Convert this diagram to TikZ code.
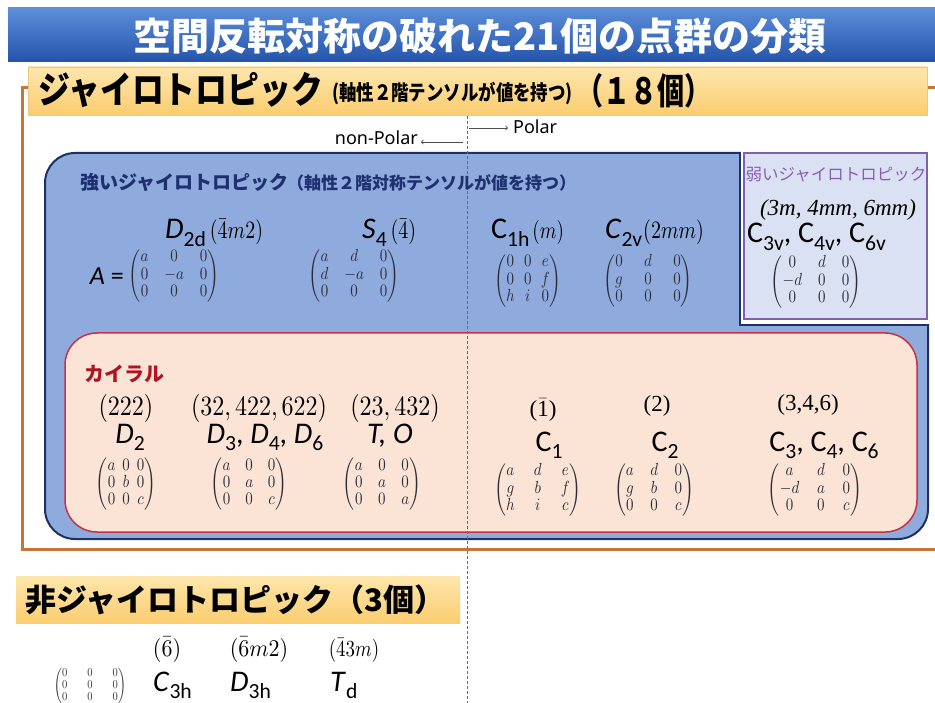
\RequirePackage{fix-cm}
\documentclass[tikz,border=0pt]{standalone}
\usepackage{amsmath}
\usepackage{graphicx}
\usepackage[no-math]{fontspec}
\setmainfont{Carlito}
\newfontfamily\jp{Noto Sans CJK JP}
\newfontfamily\jpc[FakeStretch=0.86]{Noto Sans CJK JP}
\newfontfamily\jpm[FakeStretch=0.83]{Noto Sans CJK JP}
\newfontfamily\jpn[FakeStretch=0.75]{Noto Sans CJK JP}
\newfontfamily\tms{Liberation Serif}
\newfontfamily\nsans{Noto Sans}
\newcommand\fs[1]{\fontsize{#1}{#1}\selectfont}
\newcommand\Gi[2]{\textit{#1}\raisebox{-0.26em}{\scalebox{0.72}{#2}}}
\newcommand\Gu[2]{#1\raisebox{-0.26em}{\scalebox{0.72}{#2}}}
\newcommand\mth[3]{\scalebox{#1}[#2]{\fontsize{10}{10}\selectfont$#3$}}
\newcommand\mtx[2]{\scalebox{1.5}[1.75]{\fontsize{10}{10}\selectfont\setlength\arraycolsep{#1}$\begin{pmatrix}#2\end{pmatrix}$}}
\definecolor{tb1}{RGB}{92,142,218}
\definecolor{tb2}{RGB}{36,84,170}
\definecolor{ban1}{RGB}{254,230,172}
\definecolor{ban2}{RGB}{250,205,112}
\definecolor{banl}{RGB}{235,200,130}
\definecolor{framec}{RGB}{196,118,56}
\definecolor{bfill}{RGB}{143,170,220}
\definecolor{bline}{RGB}{28,50,100}
\definecolor{wfill}{RGB}{218,225,243}
\definecolor{wline}{RGB}{128,96,168}
\definecolor{wtext}{RGB}{140,92,180}
\definecolor{cfill}{RGB}{251,228,214}
\definecolor{cline}{RGB}{196,50,70}
\definecolor{ctext}{RGB}{175,20,35}
\definecolor{navy}{RGB}{30,48,112}
\definecolor{dashc}{RGB}{95,105,140}
\definecolor{mtxc}{RGB}{45,45,55}
\tikzset{
  lab/.style={font=\fs{30}, inner sep=0pt},
  pg/.style={inner sep=0pt},
  tpg/.style={font=\tms\fs{23}, inner sep=0pt},
  mat/.style={inner sep=0pt, text=mtxc},
  dline/.style={draw=dashc, line width=0.8pt, dash pattern=on 3pt off 2pt},
  polarr/.style={draw=black!70, line width=0.8pt, ->},
}
\begin{document}
\begin{tikzpicture}[x=1pt,y=-1pt]
\useasboundingbox (0,0) rectangle (935,703);
\fill[white] (0,0) rectangle (935,703);

% title bar
\path[top color=tb1, bottom color=tb2] (8,8) rectangle (935,62);
\node[font=\jp\bfseries\fs{38}, text=white, inner sep=0pt] (title) at (480,36) {空間反転対称の破れた21個の点群の分類};

% frame
\draw[framec, line width=3pt] (22,88) rectangle (945,549);

% banner
\path[top color=ban1, bottom color=ban2, draw=banl] (28,67) rectangle (927,115);
\node[anchor=base west, font=\jpc\bfseries\fs{37}, inner sep=0pt] (gy) at (38,104) {ジャイロトロピック};
\node[anchor=base west, font=\jpm\bfseries\fs{21}, inner sep=0pt] (gyn) at (332,101) {(軸性２階テンソルが値を持つ)};
\node[anchor=base west, font=\jpn\bfseries\fs{36}, inner sep=0pt] (gy18) at (576,105) {（１８個）};

% polar arrows
\coordinate (npA) at (463,142);
\coordinate (npB) at (421,142);
\coordinate (pA) at (469,128);
\coordinate (pB) at (508,128);
\draw[polarr] (npA) -- (npB);
\draw[polarr] (pA) -- (pB);
\node[anchor=base east, font=\nsans\fs{18}, inner sep=0pt] (nonpolar) at (418,145) {non-Polar};
\node[anchor=base west, font=\nsans\fs{18}, inner sep=0pt] (polar) at (513,134) {Polar};

% blue box
\draw[bline, fill=bfill, line width=2pt, rounded corners=30pt] (45,153) rectangle (928,539);
\fill[white] (741,140) rectangle (940,324);
\draw[bline, line width=2pt] (740,152) -- (740,325) -- (929,325);

% weak box
\draw[wline, fill=wfill, line width=1.8pt] (744,153) rectangle (927,319);

% chiral box
\draw[cline, fill=cfill, line width=1.5pt, rounded corners=32pt] (65,333) rectangle (917,532);

% dashed line
\coordinate (dtop) at (467,116);
\coordinate (dbot) at (467,703);
\draw[dline] (dtop) -- (dbot);

% strong gyrotropic
\node[anchor=base west, font=\jp\bfseries\fs{19}, text=navy, inner sep=0pt] (strong) at (80,190) {強いジャイロトロピック};
\node[anchor=base west, font=\jp\bfseries\fs{17}, text=navy, inner sep=0pt] (strongn) at (287,190) {（軸性２階対称テンソルが値を持つ）};

\node[lab, anchor=base west] (d2d) at (165,239) {\Gi{D}{2d}\kern4pt\mth{2.0}{2.5}{(\bar{4}m2)}};
\node[lab, anchor=base west] (s4) at (362,239) {\Gi{S}{4}\kern4pt\mth{2.0}{2.5}{(\bar{4})}};
\node[lab, anchor=base west] (c1h) at (491,239) {\Gu{C}{1h}\kern3pt\mth{1.9}{2.4}{(m)}};
\node[lab, anchor=base west] (c2v) at (605,239) {\Gi{C}{2v}\kern1pt\mth{2.0}{2.5}{(2mm)}};

\node[anchor=east, font=\fs{26}, inner sep=0pt] (aeq) at (124,276) {\textit{A} =};
\node[mat] (md2d) at (174,276) {\mtx{5.3pt}{a&0&0\\0&-a&0\\0&0&0}};
\node[mat] (ms4) at (354,276) {\mtx{5.3pt}{a&d&0\\d&-a&0\\0&0&0}};
\node[mat] (mc1h) at (528,281) {\mtx{3.1pt}{0&0&e\\0&0&f\\h&i&0}};
\node[mat] (mc2v) at (648,281) {\mtx{7.1pt}{0&d&0\\g&0&0\\0&0&0}};

% weak gyrotropic
\node[anchor=base, font=\jp\fs{16.5}, text=wtext, inner sep=0pt] (weak) at (836,181) {弱いジャイロトロピック};
\node[anchor=base, font=\tms\itshape\fs{23}, inner sep=0pt] (weakpg) at (838,216) {(3m, 4mm, 6mm)};
\node[lab, anchor=base west] (c3v) at (747,243) {\Gu{C}{3v}, \Gu{C}{4v}, \Gu{C}{6v}};
\node[mat] (mweak) at (816,282) {\mtx{5.3pt}{0&d&0\\-d&0&0\\0&0&0}};

% chiral
\node[anchor=base west, font=\jp\bfseries\fs{20}, text=ctext, inner sep=0pt] (chir) at (84,382) {カイラル};

\node[pg, anchor=base] (p222) at (126,416) {\mth{2.4}{2.8}{(222)}};
\node[lab, anchor=base] (d2) at (130,443) {\Gi{D}{2}};
\node[pg, anchor=base] (p32) at (259,416) {\mth{2.4}{2.8}{(32,422,622)}};
\node[lab, anchor=base] (d346) at (265,443) {\Gi{D}{3}, \Gi{D}{4}, \Gi{D}{6}};
\node[pg, anchor=base] (p23) at (395,416) {\mth{2.4}{2.8}{(23,432)}};
\node[lab, anchor=base] (to) at (390,443) {\textit{T, O}};

\node[tpg, anchor=base] (p1) at (543,417) {($\bar{\text{1}}$)};
\node[lab, anchor=base] (c1) at (549,451) {\Gu{C}{1}};
\node[tpg, anchor=base] (p2) at (657,412) {(2)};
\node[lab, anchor=base] (c2) at (665,451) {\Gu{C}{2}};
\node[tpg, anchor=base] (p346) at (808,410) {(3,4,6)};
\node[lab, anchor=base] (c346) at (824,451) {\Gu{C}{3}, \Gu{C}{4}, \Gu{C}{6}};

\node[mat] (md2) at (126,484) {\mtx{2.3pt}{a&0&0\\0&b&0\\0&0&c}};
\node[mat] (md3) at (249,484) {\mtx{4.9pt}{a&0&0\\0&a&0\\0&0&c}};
\node[mat] (mto) at (382,484) {\mtx{5.1pt}{a&0&0\\0&a&0\\0&0&a}};
\node[mat] (mc1) at (538,490) {\mtx{6.4pt}{a&d&e\\g&b&f\\h&i&c}};
\node[mat] (mc2) at (654,490) {\mtx{5.5pt}{a&d&0\\g&b&0\\0&0&c}};
\node[mat] (mc3) at (815,490) {\mtx{5.9pt}{a&d&0\\-d&a&0\\0&0&c}};

% non-gyrotropic
\path[top color=ban1, bottom color=ban2] (16,576) rectangle (460,623);
\node[anchor=base west, font=\jp\bfseries\fs{31}, inner sep=0pt] (nongy) at (25,611) {非ジャイロトロピック（3個）};
\node[inner sep=0pt, text=mtxc] (mzero) at (90,686) {\scalebox{1.05}[1.2]{\fontsize{10}{10}\selectfont\setlength\arraycolsep{9.5pt}$\begin{pmatrix}0&0&0\\0&0&0\\0&0&0\end{pmatrix}$}};
\node[pg, anchor=base] (p6) at (167,656) {\mth{2.2}{2.4}{(\bar{6})}};
\node[lab, anchor=base west] (c3h) at (153,691) {\Gi{C}{3h}};
\node[pg, anchor=base] (p6m2) at (259,656) {\mth{2.2}{2.4}{(\bar{6}m2)}};
\node[lab, anchor=base west] (d3h) at (230,691) {\Gi{D}{3h}};
\node[pg, anchor=base] (p43m) at (354,656) {\mth{1.9}{2.3}{(\bar{4}3m)}};
\node[lab, anchor=base west] (td) at (330,691) {\Gi{T}{d}};
\end{tikzpicture}
\end{document}
